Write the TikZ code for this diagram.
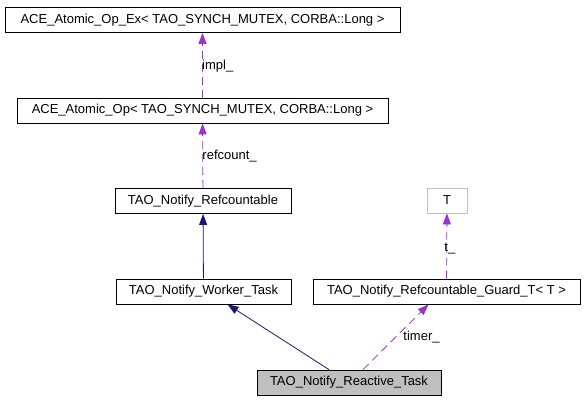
\documentclass[tikz,border=0pt]{standalone}
\usepackage{fontspec}
\setmainfont{Liberation Sans}
\usetikzlibrary{arrows.meta, positioning}
\definecolor{navyline}{HTML}{191970}
\definecolor{useline}{HTML}{9A32CD}
\definecolor{boxgray}{HTML}{BFBFBF}
\tikzset{>={Triangle[length=11pt, width=8pt]},
every node/.style={font=\fontsize{13}{15}\selectfont},
cls/.style={draw, rectangle, line width=0.8pt, minimum height=25pt, inner sep=0pt},
inh/.style={->, draw=navyline, line width=0.8pt},
use/.style={->, draw=useline, line width=0.8pt, dash pattern=on 8pt off 5pt},
}
\newcommand{\lt}{\textless{} }
\newcommand{\gt}{ \textgreater}

\begin{document}
\begin{tikzpicture}[x=1pt, y=-1pt]
\useasboundingbox (0,0) rectangle (585,400);
    \node[cls, minimum width=395pt] (ex) at (202.5,20) {ACE\_Atomic\_Op\_Ex\lt TAO\_SYNCH\_MUTEX, CORBA::Long\gt};
    \node[cls, minimum width=371pt] (op) at (202.5,110.5) {ACE\_Atomic\_Op\lt TAO\_SYNCH\_MUTEX, CORBA::Long\gt};
    \node[cls, minimum width=176pt] (refc) at (203,201) {TAO\_Notify\_Refcountable};
    \node[cls, minimum width=175pt] (worker) at (203.5,291.5) {TAO\_Notify\_Worker\_Task};
    \node[cls, minimum width=267pt] (guard) at (446.5,291.5) {TAO\_Notify\_Refcountable\_Guard\_T\lt T\gt};
    \node[cls, draw=boxgray, minimum width=40pt] (t) at (447,200.5) {T};
    \node[cls, fill=boxgray, minimum width=184pt] (react) at (349,382.5) {TAO\_Notify\_Reactive\_Task};

    \path
    (op) edge[use] node[right, pos=0.49, xshift=-4pt]{impl\_} (ex)
    (refc) edge[use] node[right, pos=0.49, xshift=-4pt]{refcount\_} (op)
    (worker) edge[inh] (refc)
    (guard) edge[use] node[right, pos=0.46, xshift=-6pt]{t\_} (t)
    ([xshift=-20pt]react.north) edge[inh] ([xshift=24pt]worker.south)
    ([xshift=14pt]react.north) edge[use] node[right, pos=0.5, xshift=4pt]{timer\_} ([xshift=-18pt]guard.south)
    ;
\end{tikzpicture}
\end{document}
